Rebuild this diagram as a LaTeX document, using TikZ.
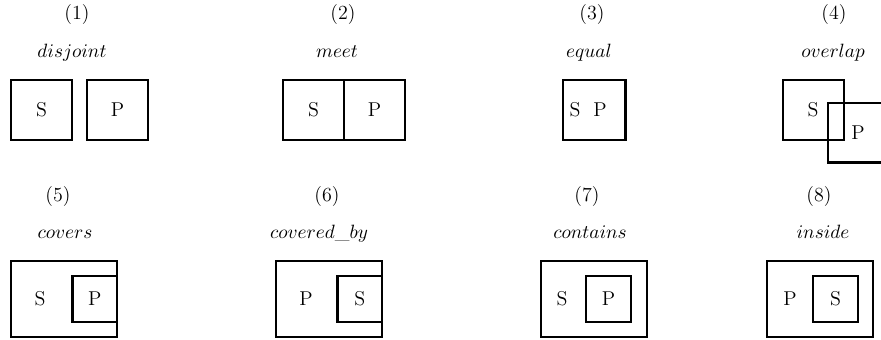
\documentclass[tikz,border=0pt]{standalone}
\usetikzlibrary{positioning}

\begin{document}
\begin{tikzpicture}
  [x=0.02cm,y=-0.02cm,font=\fontsize{11.4}{14}\selectfont,
   region/.style={rectangle,draw,line width=1.15pt,inner sep=0pt,outer sep=0pt,
                  minimum width=12.2mm,minimum height=12mm},
   outer/.style={region,minimum width=21.2mm,minimum height=15.2mm},
   inner/.style={region,line width=1.35pt,minimum width=8.9mm,minimum height=9.2mm},
   caption/.style={anchor=base}]
  \useasboundingbox (0,0) rectangle (881,339);

  % top row
  \node[caption] (num1) at (77,19.5)  {(1)};
  \node[caption] (rel1) at (72,57)    {$disjoint$};
  \node[region]  (s1)   at (41.5,110) {S};
  \node[region]  (p1)   [right=3mm of s1] {P};

  \node[caption] (num2) at (343,19.5)  {(2)};
  \node[caption] (rel2) at (337,57)    {$meet$};
  \node[region]  (s2)   at (313.5,110) {S};
  \node[region]  (p2)   [right=0mm of s2] {P};

  \node[caption] (num3) at (592,19.5) {(3)};
  \node[caption] (rel3) at (589,57)   {$equal$};
  \node[region,minimum width=12.6mm] (sp3) at (594,110) {};
  \node (s3) at (575,110) {S};
  \node (p3) at (600,110) {P};

  \node[caption] (num4) at (834,19.5)  {(4)};
  \node[caption] (rel4) at (833,57)    {$overlap$};
  \node[region]  (s4)   at (813,110)   {S};
  \node[region]  (p4)   at (858,132.5) {P};

  % bottom row
  \node[caption] (num5) at (58,201) {(5)};
  \node[caption] (rel5) at (65,238) {$covers$};
  \node[outer]   (o5)   at (64,299) {};
  \node[inner,anchor=east] (p5) at (o5.east) {P};
  \node (s5) at (40,299) {S};

  \node[caption] (num6) at (327,201) {(6)};
  \node[caption] (rel6) at (319,238) {$covered\_by$};
  \node[outer]   (o6)   at (329,299) {};
  \node[inner,anchor=east] (s6) at (o6.east) {S};
  \node (p6) at (306,299) {P};

  \node[caption] (num7) at (587,201) {(7)};
  \node[caption] (rel7) at (590,238) {$contains$};
  \node[outer]   (o7)   at (594,299) {};
  \node[inner]   (p7)   at (608.5,299) {P};
  \node (s7) at (562,299) {S};

  \node[caption] (num8) at (819,201) {(8)};
  \node[caption] (rel8) at (823,238) {$inside$};
  \node[outer]   (o8)   at (820,299) {};
  \node[inner]   (s8)   at (835.5,299) {S};
  \node (p8) at (790,299) {P};
\end{tikzpicture}
\end{document}
